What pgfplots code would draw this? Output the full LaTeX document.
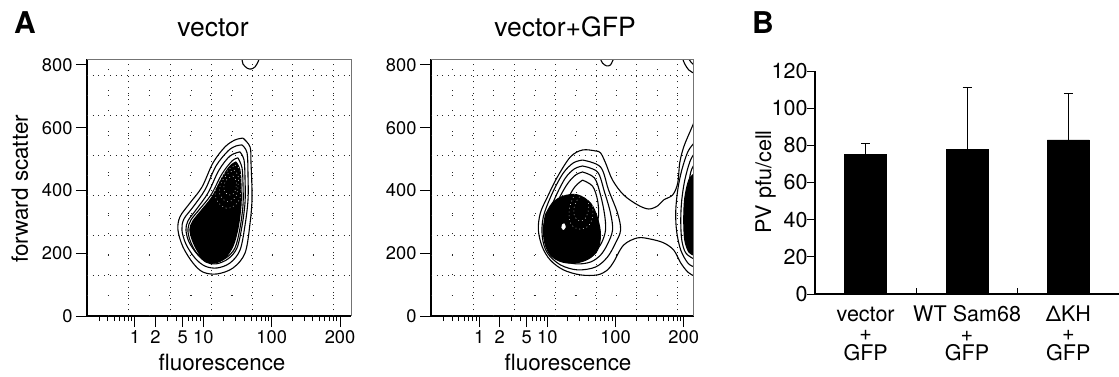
\documentclass[border=0pt]{standalone}
\usepackage{pgfplots}
\pgfplotsset{compat=1.18}
\usepackage{fontspec}
\setmainfont{TeX Gyre Heros}
\newcommand{\fs}[1]{\fontsize{#1}{#1}\selectfont}
\newcommand{\facsgrid}{%
 \pgfplotsinvokeforeach{-0.09,0.52,1.12,1.72,2.31,2.91}{\draw[gmain] (axis cs:##1,0) -- (axis cs:##1,819);}
 \pgfplotsinvokeforeach{128,256,384,512,640,768}{\draw[gmain] (axis cs:\pgfkeysvalueof{/pgfplots/xmin},##1) -- (axis cs:\pgfkeysvalueof{/pgfplots/xmax},##1);}
 \pgfplotsinvokeforeach{-0.39,0.21,0.82,1.42,2.01,2.61}{\draw[gmid] (axis cs:##1,0) -- (axis cs:##1,819);}
 \pgfplotsinvokeforeach{64,192,320,448,576,704}{\draw[gmid] (axis cs:\pgfkeysvalueof{/pgfplots/xmin},##1) -- (axis cs:\pgfkeysvalueof{/pgfplots/xmax},##1);}
}
\begin{document}
\begin{tikzpicture}
\useasboundingbox (0pt,0pt) rectangle (1119pt,376pt);
\tikzset{
 gmain/.style={black!85, line width=0.9pt, dash pattern=on 0.9pt off 4.8pt},
 gmid/.style={black!85, line width=0.9pt, dash pattern=on 0.9pt off 19.6pt},
 cont/.style={black, line width=1.1pt, smooth, tension=0.55},
 blk/.style={black, fill=black, line width=1.1pt, smooth, tension=0.55},
 wtx/.style={white, line width=0.5pt, smooth, tension=0.55, dash pattern=on 0.8pt off 3pt},
}
\pgfplotsset{
 facs/.style={
  scale only axis, width=264pt, height=257pt, anchor=south west,
  ymin=0, ymax=819,
  axis x line*=bottom, axis y line*=left,
  axis line style={line width=1.2pt},
  tick align=outside, major tick length=11pt, minor tick length=5pt,
  tick style={line width=1pt, black},
  xtick={0,0.301,0.699,1,2,3}, xticklabels={1,2,5,10,100,200},
  minor xtick={-0.523,-0.398,-0.301,-0.222,-0.155,-0.097,-0.046,0.477,0.602,0.778,0.845,0.903,0.954,1.301,1.477,1.602,1.699,1.778,1.845,1.903,1.954,2.301,2.477,2.602,2.699,2.778,2.845,2.903,2.954},
  ytick={0,200,400,600,800},
  /pgf/number format/assume math mode=true,
  ticklabel style={font=\fs{18.3}},
 }
}
% ---------------- left FACS plot ----------------
\begin{axis}[facs, name=fa, at={(87pt,60pt)}, xmin=-0.70, xmax=3.16]
\facsgrid
\addplot[cont] coordinates {(1.581,567)(1.684,539)(1.698,488)(1.713,379)(1.684,296)(1.611,201)(1.435,153)(1.201,134)(0.996,140)(0.849,169)(0.703,220)(0.630,274)(0.659,316)(0.805,360)(0.981,411)(1.142,488)(1.318,539)(1.464,561)(1.581,567)};
\addplot[cont] coordinates {(1.567,545)(1.640,520)(1.654,449)(1.654,370)(1.611,290)(1.537,210)(1.391,169)(1.201,153)(1.025,159)(0.878,185)(0.747,229)(0.688,274)(0.717,309)(0.849,347)(1.025,402)(1.186,478)(1.362,526)(1.479,542)(1.567,545)};
\addplot[cont] coordinates {(1.537,523)(1.596,497)(1.611,433)(1.611,363)(1.567,287)(1.493,217)(1.362,182)(1.186,166)(1.040,172)(0.908,198)(0.791,236)(0.747,274)(0.776,303)(0.893,338)(1.069,392)(1.230,465)(1.391,510)(1.537,523)};
\addplot[cont] coordinates {(1.508,504)(1.567,472)(1.581,418)(1.581,354)(1.537,280)(1.464,217)(1.332,185)(1.171,172)(1.025,178)(0.893,204)(0.805,242)(0.776,277)(0.820,306)(0.937,338)(1.113,386)(1.274,453)(1.420,494)(1.508,504)};
\addplot[blk] coordinates {(1.479,491)(1.537,465)(1.552,414)(1.552,354)(1.508,280)(1.435,223)(1.318,185)(1.171,169)(1.025,175)(0.908,210)(0.835,245)(0.805,277)(0.849,303)(0.966,335)(1.127,379)(1.274,440)(1.391,478)(1.479,491)};
\addplot[wtx] coordinates {(1.464,481)(1.537,465)(1.552,424)(1.537,376)(1.449,351)(1.332,344)(1.215,363)(1.171,395)(1.245,433)(1.362,465)(1.464,481)};
\addplot[wtx] coordinates {(1.449,465)(1.508,449)(1.508,414)(1.479,382)(1.406,367)(1.318,367)(1.245,386)(1.245,414)(1.303,440)(1.376,456)(1.449,465)};
\addplot[wtx] coordinates {(1.435,446)(1.479,433)(1.479,408)(1.435,389)(1.362,386)(1.303,402)(1.318,427)(1.376,440)(1.435,446)};
\addplot[cont] coordinates {(1.567,819)(1.581,803)(1.640,790)(1.698,787)(1.757,794)(1.801,810)(1.815,819)};
\end{axis}
\draw[black!55, line width=0.8pt] (fa.north west) -- (fa.north east) -- (fa.south east);
% ---------------- right FACS plot ----------------
\begin{axis}[facs, name=fb, at={(431pt,60pt)}, width=262pt, xmin=-0.706, xmax=3.147]
\facsgrid
\addplot[cont] coordinates {(3.147,615)(3.103,593)(3.000,539)(2.941,488)(2.912,424)(2.838,386)(2.706,370)(2.618,351)(2.485,341)(2.324,354)(2.118,386)(1.956,433)(1.853,488)(1.779,520)(1.706,526)(1.515,529)(1.338,507)(1.147,443)(1.000,379)(0.897,328)(0.868,274)(0.926,220)(1.044,178)(1.235,147)(1.485,131)(1.735,131)(1.882,147)(1.971,172)(2.118,226)(2.324,249)(2.515,245)(2.706,233)(2.853,210)(2.956,169)(3.059,140)(3.147,128)};
\addplot[cont] coordinates {(1.515,497)(1.779,475)(1.897,402)(2.029,328)(2.074,274)(2.000,233)(1.882,188)(1.706,156)(1.441,147)(1.191,163)(1.000,201)(0.926,252)(0.941,316)(1.074,392)(1.235,456)(1.382,488)(1.515,497)};
\addplot[cont] coordinates {(1.515,478)(1.735,459)(1.838,395)(1.926,328)(1.956,274)(1.882,229)(1.779,194)(1.632,172)(1.426,166)(1.221,178)(1.059,210)(0.985,255)(1.000,312)(1.118,379)(1.265,440)(1.397,469)(1.515,478)};
\addplot[cont] coordinates {(1.515,459)(1.691,440)(1.779,386)(1.838,325)(1.853,274)(1.794,233)(1.691,204)(1.544,188)(1.368,185)(1.206,198)(1.088,226)(1.029,265)(1.059,312)(1.162,370)(1.294,421)(1.412,449)(1.515,459)};
\addplot[blk] coordinates {(0.971,322)(1.074,360)(1.235,382)(1.441,386)(1.632,360)(1.735,312)(1.779,258)(1.735,210)(1.603,182)(1.412,169)(1.221,172)(1.059,191)(0.971,226)(0.941,274)(0.971,322)};
\addplot[cont] coordinates {(1.515,433)(1.662,414)(1.735,370)(1.750,319)(1.691,274)(1.559,255)(1.382,258)(1.265,280)(1.250,328)(1.324,382)(1.412,414)(1.515,433)};
\addplot[wtx] coordinates {(1.515,411)(1.618,395)(1.662,357)(1.662,316)(1.603,287)(1.500,277)(1.382,284)(1.324,306)(1.324,344)(1.382,379)(1.441,402)(1.515,411)};
\addplot[wtx] coordinates {(1.515,389)(1.588,373)(1.603,341)(1.559,312)(1.471,303)(1.397,319)(1.397,351)(1.456,376)(1.515,389)};
\addplot[white, fill=white, smooth] coordinates {(1.22,292)(1.25,294)(1.265,283)(1.235,275)(1.21,282)(1.22,292)};
\addplot[cont] coordinates {(3.147,550)(3.059,523)(2.971,465)(2.912,402)(2.882,331)(2.897,268)(2.956,210)(3.059,169)(3.147,157)};
\addplot[cont] coordinates {(3.147,515)(3.088,491)(3.015,433)(2.971,370)(2.956,306)(2.971,242)(3.029,201)(3.147,182)};
\addplot[cont] coordinates {(3.147,480)(3.103,459)(3.059,402)(3.029,338)(3.029,274)(3.059,226)(3.147,208)};
\addplot[blk] coordinates {(3.147,452)(3.074,433)(3.015,376)(3.000,306)(3.015,242)(3.074,204)(3.147,194)};
\addplot[cont] coordinates {(1.779,819)(1.809,806)(1.868,797)(1.926,800)(1.956,813)(1.971,819)};
\addplot[cont] coordinates {(2.985,819)(3.015,803)(3.074,784)(3.147,774)};
\addplot[cont] coordinates {(3.074,819)(3.103,810)(3.147,800)};
\end{axis}
\draw[black!55, line width=0.8pt] (fb.north west) -- (fb.north east) -- (fb.south east);
% ---------------- bar chart ----------------
\begin{axis}[name=bc, at={(815pt,82pt)}, anchor=south west, scale only axis, width=304pt, height=223pt,
 xmin=-0.5, xmax=2.5, ymin=0, ymax=120,
 axis x line*=bottom, axis y line*=left,
 axis line style={line width=1.2pt},
 ytick={0,20,40,60,80,100,120}, tick align=outside, major tick length=8pt,
 tick style={line width=1pt, black},
 xtick={0,1,2}, xtick style={draw=none},
 xticklabels={\vphantom{T}vector\\[2pt]+\\[2pt]GFP, WT Sam68\\[2pt]+\\[2pt]GFP, ΔKH\\[2pt]+\\[2pt]GFP},
 /pgf/number format/assume math mode=true,
 ticklabel style={font=\fontsize{21.5}{17.5}\selectfont},
 xticklabel style={align=center},
 yticklabel style={xshift=4pt}]
\addplot[ybar, bar width=42pt, fill=black, draw=black,
 error bars/.cd, y dir=plus, y explicit,
 error bar style={line width=1pt, black},
 error mark options={rotate=90, mark size=4.5pt, line width=1pt, black}]
 coordinates {(0,75) +- (0,6) (1,78) +- (0,33) (2,83) +- (0,25)};
\end{axis}
\draw[line width=1pt] ([xshift=101.3pt]bc.south west) -- ++(0pt,6pt);
\draw[line width=1pt] ([xshift=202.6pt]bc.south west) -- ++(0pt,6pt);
% ---------------- texts ----------------
\node[anchor=base west, inner sep=0pt, font=\bfseries\fs{30}] at (14pt,343pt) {A};
\node[anchor=base west, inner sep=0pt, font=\bfseries\fs{30}] at (752pt,343pt) {B};
\node[anchor=base, inner sep=0pt, font=\fs{26.5}] at (213pt,339.5pt) {vector};
\node[anchor=base, inner sep=0pt, font=\fs{26.5}] at (565pt,339.5pt) {vector+GFP};
\node[anchor=base, inner sep=0pt, rotate=90, font=\fs{22.4}] at (28pt,187pt) {forward scatter};
\node[anchor=base, inner sep=0pt, font=\fs{22.4}] at (222pt,6pt) {fluorescence};
\node[anchor=base, inner sep=0pt, font=\fs{22.4}] at (568pt,6pt) {fluorescence};
\node[anchor=base, inner sep=0pt, rotate=90, font=\fs{21.6}] at (771pt,194pt) {PV pfu/cell};
\end{tikzpicture}
\end{document}
